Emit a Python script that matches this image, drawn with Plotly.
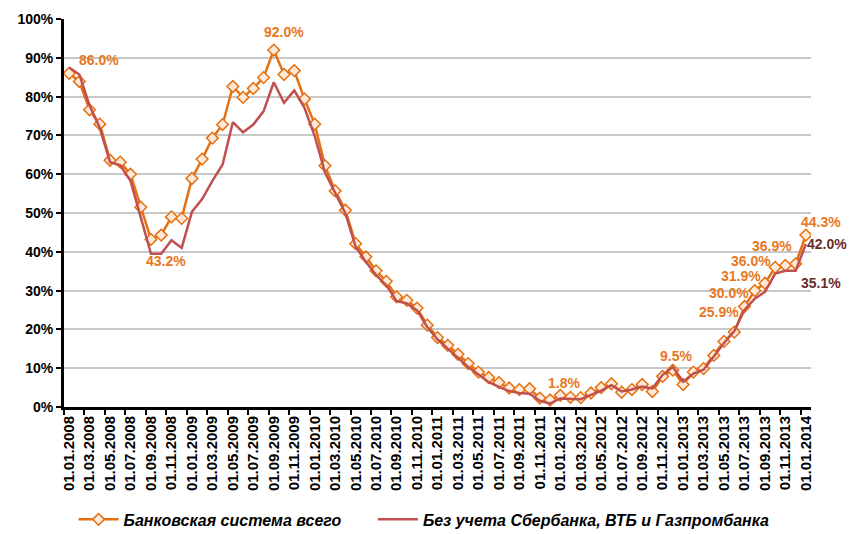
import plotly.graph_objects as go

# monthly dates 01.01.2008 .. 01.01.2014
dates = [f"01.{m:02d}.{y}" for y in range(2008, 2014) for m in range(1, 13)] + ["01.01.2014"]

total = [86.0, 83.9, 76.6, 72.9, 63.6, 63.1, 60.0, 51.5, 43.2, 44.3, 49.0, 48.6,
         58.9, 63.9, 69.3, 72.8, 82.6, 79.8, 82.1, 84.9, 92.0, 85.7, 86.7, 79.4,
         72.9, 62.2, 55.7, 50.7, 42.1, 38.7, 35.1, 32.4, 28.4, 27.5, 25.5, 21.1,
         17.9, 15.9, 13.6, 11.2, 9.0, 7.6, 6.3, 4.9, 4.5, 4.7, 2.3, 1.8,
         3.0, 2.5, 2.4, 3.6, 5.0, 6.0, 3.8, 4.5, 5.8, 4.0, 7.9, 9.5,
         5.8, 9.0, 9.9, 13.3, 16.9, 19.3, 25.9, 30.0, 31.9, 36.0, 36.5, 36.9,
         44.3]

no_big3 = [87.5, 85.7, 77.7, 71.9, 63.1, 62.3, 58.3, 48.7, 39.5, 39.5, 43.0, 41.0,
           50.3, 53.6, 58.3, 62.5, 73.4, 70.8, 72.8, 76.2, 83.7, 78.4, 81.6, 77.1,
           69.8, 60.5, 55.0, 49.9, 41.3, 37.4, 34.0, 31.4, 27.3, 26.7, 24.9, 20.6,
           17.4, 15.0, 12.6, 10.3, 8.4, 6.4, 5.2, 4.1, 3.6, 3.4, 1.6, 0.9,
           2.2, 2.1, 2.0, 3.1, 4.2, 5.6, 4.0, 4.5, 5.3, 4.8, 8.3, 10.3,
           6.5, 8.6, 9.6, 13.0, 16.5, 19.6, 25.0, 27.9, 29.7, 34.4, 35.1, 35.1,
           42.0]

ORANGE = "#E6700F"
LABEL_ORANGE = "#E87722"
RED = "#C0504D"
DARK = "#6A2B2B"
FONT = "Liberation Sans"

fig = go.Figure()
fig.add_trace(go.Scatter(
    x=dates, y=total, name="Банковская система всего" + "\u00a0" * 6, mode="lines+markers",
    line=dict(color=ORANGE, width=2.5),
    marker=dict(symbol="diamond", size=9, color="#FDE9D9", line=dict(color=ORANGE, width=1.5)),
))
fig.add_trace(go.Scatter(
    x=dates, y=no_big3, name="Без учета Сбербанка, ВТБ и Газпромбанка", mode="lines",
    line=dict(color=RED, width=2.5),
))

# data labels: (index, series, color, xanchor, xshift, yshift)
labels = [
    (0, total, LABEL_ORANGE, "center", 30, 13),
    (8, total, LABEL_ORANGE, "center", 15, -22),
    (20, total, LABEL_ORANGE, "center", 10, 18),
    (47, total, LABEL_ORANGE, "center", 14, 17),
    (59, total, LABEL_ORANGE, "center", 3, 14),
    (66, total, LABEL_ORANGE, "right", -3, -5),
    (67, total, LABEL_ORANGE, "right", -4, -2),
    (68, total, LABEL_ORANGE, "right", -2, 7),
    (69, total, LABEL_ORANGE, "right", -2, 6),
    (71, total, LABEL_ORANGE, "right", -2, 18),
    (72, total, LABEL_ORANGE, "left", -7, 13),
    (72, no_big3, DARK, "left", -1, 0),
    (71, no_big3, DARK, "left", 3, -12),
]
for i, s, c, xa, xs, ys in labels:
    fig.add_annotation(x=dates[i], y=s[i], text=f"{s[i]:.1f}%", showarrow=False,
                       xanchor=xa, xshift=xs, yshift=ys,
                       font=dict(family=FONT, size=14, color=c, weight="bold"))

# page body has an 8px margin, so the figure is sized to fit inside the window
fig.update_layout(
    width=848, height=526,
    margin=dict(l=56, r=45, t=11, b=127, autoexpand=False),
    plot_bgcolor="white", paper_bgcolor="white",
    font=dict(family=FONT, color="black"),
    legend=dict(orientation="h", x=0.482, xanchor="center", y=-0.246, yanchor="top",
                font=dict(family=FONT, size=16, style="italic", weight="bold"),
                itemwidth=40, tracegroupgap=0),
)
fig.update_xaxes(
    type="category", range=[-0.5, 72.5], dtick=2, tickson="boundaries", automargin=False,
    tickangle=-90, ticks="outside", ticklen=5, tickwidth=2, tickcolor="black",
    showline=True, linecolor="black", linewidth=3, showgrid=False,
    tickfont=dict(family=FONT, size=15, weight="bold"),
)
fig.update_yaxes(
    range=[0, 100], dtick=10, ticksuffix="%", automargin=False,
    ticks="outside", ticklen=5, tickwidth=2, tickcolor="black",
    showline=True, linecolor="black", linewidth=3,
    showgrid=True, gridcolor="#C8C8C8", gridwidth=1.5, zeroline=False,
    tickfont=dict(family=FONT, size=14, weight="bold"),
)

fig.write_html("out.html")
